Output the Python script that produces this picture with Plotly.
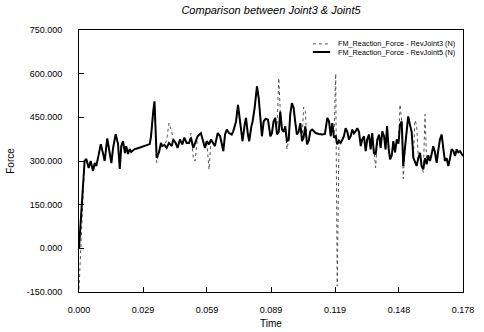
import plotly.graph_objects as go

time_s = [0.0000, 0.0016, 0.0026, 0.0034, 0.0045, 0.0054, 0.0065, 0.0073, 0.0080, 0.0088,
          0.0101, 0.0111, 0.0119, 0.0131, 0.0142, 0.0150, 0.0158, 0.0170, 0.0181, 0.0189,
          0.0196, 0.0204, 0.0213, 0.0219, 0.0227, 0.0235, 0.0242, 0.0258, 0.0273, 0.0305,
          0.0328, 0.0334, 0.0338, 0.0344, 0.0350, 0.0357, 0.0360, 0.0371, 0.0380, 0.0386,
          0.0396, 0.0406, 0.0417, 0.0430, 0.0437, 0.0448, 0.0457, 0.0468, 0.0479, 0.0488,
          0.0499, 0.0510, 0.0519, 0.0530, 0.0538, 0.0550, 0.0565, 0.0576, 0.0584, 0.0592,
          0.0603, 0.0612, 0.0622, 0.0630, 0.0643, 0.0654, 0.0661, 0.0669, 0.0677, 0.0685,
          0.0695, 0.0708, 0.0715, 0.0728, 0.0737, 0.0743, 0.0752, 0.0758, 0.0768, 0.0774,
          0.0783, 0.0789, 0.0799, 0.0805, 0.0814, 0.0825, 0.0833, 0.0840, 0.0848, 0.0856,
          0.0865, 0.0876, 0.0887, 0.0894, 0.0902, 0.0910, 0.0918, 0.0926, 0.0933, 0.0941,
          0.0949, 0.0956, 0.0964, 0.0972, 0.0979, 0.0987, 0.0995, 0.1002, 0.1010, 0.1018,
          0.1026, 0.1034, 0.1041, 0.1049, 0.1057, 0.1065, 0.1072, 0.1081, 0.1097, 0.1112,
          0.1128, 0.1140, 0.1151, 0.1159, 0.1167, 0.1174, 0.1182, 0.1190, 0.1197, 0.1205,
          0.1213, 0.1220, 0.1228, 0.1236, 0.1244, 0.1251, 0.1259, 0.1267, 0.1274, 0.1282,
          0.1290, 0.1298, 0.1306, 0.1313, 0.1321, 0.1329, 0.1336, 0.1344, 0.1352, 0.1359,
          0.1367, 0.1375, 0.1383, 0.1391, 0.1398, 0.1406, 0.1414, 0.1421, 0.1428, 0.1435,
          0.1442, 0.1450, 0.1457, 0.1465, 0.1473, 0.1481, 0.1488, 0.1496, 0.1503, 0.1511,
          0.1519, 0.1526, 0.1534, 0.1542, 0.1550, 0.1557, 0.1565, 0.1573, 0.1581, 0.1588,
          0.1596, 0.1604, 0.1612, 0.1619, 0.1627, 0.1635, 0.1642, 0.1650, 0.1658, 0.1666,
          0.1673, 0.1681, 0.1689, 0.1696, 0.1704, 0.1712, 0.1720, 0.1727, 0.1735, 0.1743,
          0.1751, 0.1758, 0.1766, 0.1774, 0.1780]

force_joint5 = [0, 170, 300, 307, 276, 300, 266, 293, 283, 310,
                358, 327, 300, 378, 324, 293, 344, 392, 358, 273,
                351, 368, 327, 351, 324, 341, 331, 341, 344, 351,
                358, 385, 436, 470, 505, 368, 311, 330, 362, 351,
                355, 345, 362, 351, 374, 362, 345, 374, 357, 380,
                362, 362, 380, 345, 362, 385, 396, 362, 345, 368,
                357, 374, 362, 351, 396, 385, 362, 334, 391, 408,
                396, 391, 402, 436, 493, 459, 413, 368, 425, 448,
                391, 368, 419, 436, 482, 556, 516, 448, 385, 436,
                445, 442, 385, 395, 436, 448, 391, 400, 470, 408,
                400, 419, 368, 372, 459, 499, 482, 436, 391, 400,
                430, 368, 380, 419, 357, 370, 402, 408, 396, 393,
                391, 393, 448, 436, 385, 430, 380, 385, 357, 370,
                362, 372, 385, 413, 400, 374, 385, 408, 395, 402,
                413, 400, 351, 374, 385, 334, 374, 391, 340, 396,
                328, 322, 374, 391, 345, 402, 385, 340, 420, 345,
                306, 320, 368, 330, 374, 360, 425, 436, 283, 345,
                413, 453, 425, 400, 311, 300, 283, 310, 328, 283,
                272, 310, 289, 320, 300, 325, 351, 330, 294, 340,
                374, 391, 345, 300, 310, 283, 310, 340, 335, 317,
                340, 330, 334, 325, 317]

force_joint3 = [-140, 170, 300, 307, 276, 300, 266, 293, 283, 310,
                358, 327, 300, 378, 324, 293, 344, 392, 358, 273,
                351, 368, 327, 351, 324, 341, 331, 341, 344, 351,
                358, 385, 436, 470, 500, 368, 295, 330, 362, 351,
                355, 370, 430, 400, 374, 362, 345, 374, 357, 380,
                362, 362, 396, 311, 300, 385, 396, 362, 345, 368,
                270, 374, 362, 351, 396, 385, 362, 334, 391, 408,
                396, 391, 402, 436, 493, 459, 413, 368, 425, 448,
                391, 368, 419, 436, 482, 556, 516, 448, 385, 436,
                445, 442, 385, 395, 436, 448, 420, 585, 470, 408,
                400, 419, 340, 372, 459, 499, 482, 436, 391, 400,
                430, 368, 485, 470, 357, 370, 402, 408, 396, 393,
                391, 393, 448, 436, 385, 430, 380, 600, -130, 370,
                362, 372, 385, 413, 400, 374, 385, 408, 395, 402,
                413, 400, 351, 374, 385, 334, 374, 391, 340, 396,
                328, 277, 374, 391, 345, 402, 385, 340, 420, 345,
                306, 320, 368, 330, 374, 360, 494, 436, 239, 345,
                413, 453, 425, 400, 311, 440, 425, 310, 328, 283,
                260, 460, 289, 320, 300, 325, 351, 330, 294, 340,
                374, 391, 345, 300, 310, 283, 310, 340, 335, 317,
                340, 330, 334, 325, 317]

series_names = ["FM_Reaction_Force - RevJoint3 (N)", "FM_Reaction_Force - RevJoint5 (N)"]

x_tick_vals = [0.0, 0.02967, 0.05933, 0.089, 0.11867, 0.14833, 0.178]
x_tick_text = ["0.000", "0.029", "0.059", "0.089", "0.119", "0.148", "0.178"]
y_tick_vals = [-150, 0, 150, 300, 450, 600, 750]
y_tick_text = ["-150.000", "0.000", "150.000", "300.000", "450.000", "600.000", "750.000"]

FONT = "Arial, Liberation Sans, sans-serif"
styles = [dict(color="#555555", width=1, dash="dot"), dict(color="#000000", width=2)]

fig = go.Figure()
for name, vals, st in zip(series_names, [force_joint3, force_joint5], styles):
    fig.add_trace(go.Scatter(x=time_s, y=vals, mode="lines", name=name,
                             line=st, showlegend=False))

# compact manual legend (top right, inside the plot)
leg_y = [0.947, 0.916]
for name, st, yy in zip(series_names, styles, leg_y):
    fig.add_shape(type="line", xref="paper", yref="paper",
                  x0=0.609, x1=0.654, y0=yy, y1=yy, line=st)
    fig.add_annotation(text=name, xref="paper", yref="paper", x=0.668, y=yy,
                       xanchor="left", yanchor="middle", showarrow=False,
                       font=dict(family=FONT, size=7.3, color="black"))

fig.update_layout(
    width=484, height=332,
    margin=dict(l=79, r=21, t=30, b=40, autoexpand=False),
    paper_bgcolor="white", plot_bgcolor="white",
    title=dict(text="<i>Comparison between Joint3 &amp; Joint5</i>",
               font=dict(family=FONT, size=11, color="black"),
               x=0.5, xref="paper", y=0.97, yref="container", yanchor="middle"),
    showlegend=False,
    font=dict(family=FONT, color="black"),
)

fig.update_xaxes(
    range=[0, 0.178], tickmode="array", tickvals=x_tick_vals, ticktext=x_tick_text,
    ticks="inside", ticklen=5, tickcolor="black", tickwidth=1,
    showline=True, linecolor="black", linewidth=1, mirror=True,
    showgrid=False, zeroline=False, automargin=False,
    tickfont=dict(family=FONT, size=9, color="black"),
    ticklabelstandoff=9,
    title=dict(text="Time", font=dict(family=FONT, size=10, color="black"), standoff=6),
)
fig.update_yaxes(
    range=[-150, 750], tickmode="array", tickvals=y_tick_vals, ticktext=y_tick_text,
    ticks="inside", ticklen=5, tickcolor="black", tickwidth=1,
    showline=True, linecolor="black", linewidth=1, mirror=True,
    showgrid=False, zeroline=False, automargin=False,
    tickfont=dict(family=FONT, size=9, color="black"),
    ticklabelstandoff=14,
    title=dict(text="Force", font=dict(family=FONT, size=10, color="black"), standoff=10),
)

fig.write_html("out.html")
